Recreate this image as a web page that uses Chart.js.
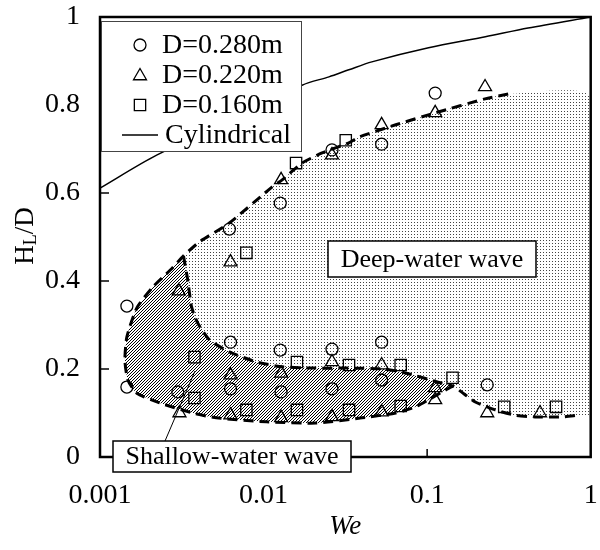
<!DOCTYPE html>
<html>
<head>
<meta charset="utf-8">
<script src="https://cdn.jsdelivr.net/npm/chart.js@4/dist/chart.umd.min.js"></script>
<style>
    body { margin: 0; background: #fff; }
    canvas { display: block; }
</style>
</head>
<body>
<canvas id="chart" width="600" height="550"></canvas>
<script>
// Axis ticks
const xTickVals = [0.001, 0.01, 0.1, 1];
const xTickLabels = ['0.001', '0.01', '0.1', '1'];
const yTickVals = [0, 0.2, 0.4, 0.6, 0.8, 1];
const yTickLabels = ['0', '0.2', '0.4', '0.6', '0.8', '1'];

// D=0.280m (circles)
const circleWe = [0.00146, 0.00146, 0.00299, 0.00618, 0.00628, 0.00628, 0.01265, 0.01265, 0.0128, 0.0262, 0.0262, 0.0262, 0.0527, 0.0527, 0.0527, 0.112, 0.233];
const circleH = [0.343, 0.159, 0.148, 0.518, 0.261, 0.155, 0.577, 0.243, 0.148, 0.698, 0.245, 0.155, 0.711, 0.261, 0.175, 0.827, 0.164];

// D=0.220m (triangles)
const triWe = [0.00303, 0.00306, 0.00628, 0.00628, 0.00628, 0.0128, 0.0128, 0.0128, 0.0262, 0.0262, 0.0262, 0.0527, 0.0527, 0.0527, 0.112, 0.112, 0.112, 0.226, 0.233, 0.49];
const triH = [0.377, 0.1, 0.443, 0.186, 0.095, 0.63, 0.19, 0.089, 0.686, 0.216, 0.091, 0.755, 0.209, 0.102, 0.782, 0.157, 0.13, 0.841, 0.1, 0.1];

// D=0.160m (squares)
const sqWe = [0.00378, 0.00378, 0.00785, 0.00785, 0.0158, 0.016, 0.016, 0.0318, 0.0333, 0.0333, 0.0689, 0.0689, 0.143, 0.296, 0.614];
const sqH = [0.227, 0.134, 0.464, 0.107, 0.668, 0.216, 0.107, 0.72, 0.209, 0.107, 0.209, 0.116, 0.18, 0.114, 0.114];

// Cylindrical
const cylWe = [0.001, 0.00222, 0.0172, 0.0251, 0.0332, 0.0459, 0.102, 0.227, 0.414, 1];
const cylH = [0.611, 0.686, 0.845, 0.864, 0.88, 0.898, 0.93, 0.955, 0.975, 1.0];

// Region boundaries (dashed curves)
const upperWe = [0.00324, 0.00406, 0.00618, 0.0113, 0.013, 0.0172, 0.0228, 0.0332, 0.0382, 0.0643, 0.112, 0.226, 0.313];
const upperH = [0.457, 0.489, 0.532, 0.614, 0.63, 0.668, 0.691, 0.714, 0.727, 0.755, 0.782, 0.814, 0.825];
const innerWe = [0.00324, 0.00344, 0.00363, 0.00395, 0.00467, 0.00618, 0.00904, 0.013, 0.0209, 0.0333, 0.0543, 0.074, 0.117, 0.145];
const innerH = [0.457, 0.402, 0.341, 0.305, 0.266, 0.239, 0.216, 0.205, 0.202, 0.202, 0.2, 0.191, 0.17, 0.161];
const lowerWe = [0.00324, 0.00278, 0.0021, 0.00168, 0.00146, 0.00142, 0.00148, 0.00168, 0.00232, 0.00368, 0.00515, 0.0104, 0.0209, 0.0399, 0.0643, 0.0849, 0.102, 0.129, 0.145];
const lowerH = [0.457, 0.43, 0.386, 0.339, 0.273, 0.22, 0.175, 0.145, 0.123, 0.1, 0.089, 0.08, 0.077, 0.089, 0.1, 0.114, 0.13, 0.152, 0.161];
const tailWe = [0.145, 0.162, 0.197, 0.261, 0.345, 0.457, 0.658, 0.834];
const tailH = [0.161, 0.148, 0.125, 0.107, 0.095, 0.091, 0.091, 0.095];
const edgeWe = [1, 1];
const edgeH = [0.818, 0.095];

function pts(we, h) {
    return we.map((v, i) => ({ x: v, y: h[i] }));
}

// Fill patterns
function makePattern(size, draw) {
    const c = document.createElement('canvas');
    c.width = size;
    c.height = size;
    const g = c.getContext('2d');
    draw(g);
    return g.createPattern(c, 'repeat');
}
const dotted = makePattern(3, g => {
    g.fillStyle = '#444';
    g.fillRect(0, 0, 1, 1);
});
const hatched = makePattern(3, g => {
    g.fillStyle = '#000';
    for (let i = 0; i < 3; i++) g.fillRect(i, 2 - i, 1, 1);
});

const deepShape = [...pts(upperWe, upperH), ...pts(edgeWe, edgeH),
    ...pts(tailWe, tailH).reverse(), ...pts(innerWe, innerH).reverse().slice(1)];
const shallowShape = [...pts(innerWe, innerH), ...pts(lowerWe, lowerH).reverse().slice(1)];
const outerLine = [...pts(upperWe, upperH).reverse(), ...pts(lowerWe, lowerH).slice(1), ...pts(tailWe, tailH).slice(1)];

const SERIF = "'Liberation Serif', 'Times New Roman', serif";
Chart.defaults.font.family = SERIF;
Chart.defaults.color = '#000';

function marker(ctx, style, x, y, r) {
    ctx.beginPath();
    if (style === 'circle') {
        ctx.arc(x, y, r, 0, Math.PI * 2);
    } else if (style === 'triangle') {
        ctx.moveTo(x, y - r);
        ctx.lineTo(x + r * 0.866, y + r / 2);
        ctx.lineTo(x - r * 0.866, y + r / 2);
        ctx.closePath();
    } else {
        const s = r * Math.SQRT1_2;
        ctx.rect(x - s, y - s, 2 * s, 2 * s);
    }
    ctx.stroke();
}

function textBox(ctx, text, cx, cy, w, h) {
    ctx.fillStyle = '#fff';
    ctx.fillRect(cx - w / 2, cy - h / 2, w, h);
    ctx.strokeStyle = '#000';
    ctx.lineWidth = 1.5;
    ctx.strokeRect(cx - w / 2, cy - h / 2, w, h);
    ctx.fillStyle = '#000';
    ctx.font = '26px ' + SERIF;
    ctx.textAlign = 'center';
    ctx.textBaseline = 'middle';
    ctx.fillText(text, cx, cy + 1);
}

// Frame, inward ticks, labels and legend
const decor = {
    id: 'decor',
    afterDraw(chart) {
        const { ctx, chartArea: a, scales: { x, y } } = chart;
        ctx.save();
        ctx.strokeStyle = '#000';
        ctx.lineWidth = 1.5;
        x.ticks.forEach(t => {
            if (t.value <= 0.001 || t.value >= 1) return;
            const px = x.getPixelForValue(t.value);
            ctx.beginPath();
            ctx.moveTo(px, a.bottom);
            ctx.lineTo(px, a.bottom - 8);
            ctx.stroke();
        });
        y.ticks.forEach(t => {
            if (t.value <= 0 || t.value >= 1) return;
            const py = y.getPixelForValue(t.value);
            ctx.beginPath();
            ctx.moveTo(a.left, py);
            ctx.lineTo(a.left + 9, py);
            ctx.stroke();
        });
        ctx.lineWidth = 2.5;
        ctx.strokeRect(a.left, a.top, a.right - a.left, a.bottom - a.top);

        // leader line to shallow region
        ctx.lineWidth = 1;
        ctx.beginPath();
        ctx.moveTo(165, 441);
        ctx.lineTo(195, 371);
        ctx.stroke();

        textBox(ctx, 'Deep-water wave', 432, 259, 208, 36);
        textBox(ctx, 'Shallow-water wave', 232, 456.5, 238, 31);

        // legend
        ctx.fillStyle = '#fff';
        ctx.fillRect(101, 21, 201, 131);
        ctx.strokeStyle = '#444';
        ctx.lineWidth = 1;
        ctx.strokeRect(101.5, 21.5, 200, 130);
        const entries = [
            { style: 'circle', r: 6, text: 'D=0.280m', y: 45 },
            { style: 'triangle', r: 7.5, text: 'D=0.220m', y: 75 },
            { style: 'rect', r: 8, text: 'D=0.160m', y: 105 }
        ];
        ctx.font = '28px ' + SERIF;
        ctx.textAlign = 'left';
        ctx.textBaseline = 'middle';
        ctx.strokeStyle = '#000';
        entries.forEach(e => {
            ctx.lineWidth = 1.3;
            marker(ctx, e.style, 140, e.y + (e.style === 'triangle' ? 1 : 0), e.r);
            ctx.fillStyle = '#000';
            ctx.fillText(e.text, 162, e.y + 1);
        });
        ctx.lineWidth = 1.5;
        ctx.beginPath();
        ctx.moveTo(122, 135);
        ctx.lineTo(158, 135);
        ctx.stroke();
        ctx.fillText('Cylindrical', 165, 136);

        // y axis title H_L/D
        ctx.translate(26, 236);
        ctx.rotate(-Math.PI / 2);
        ctx.textAlign = 'left';
        ctx.textBaseline = 'middle';
        const big = '27px ' + SERIF, small = '18px ' + SERIF;
        ctx.font = big;
        const wH = ctx.measureText('H').width;
        const wD = ctx.measureText('/D').width;
        ctx.font = small;
        const wL = ctx.measureText('L').width;
        let sx = -(wH + wL + wD) / 2;
        ctx.font = big;
        ctx.fillText('H', sx, 0);
        ctx.font = small;
        ctx.fillText('L', sx + wH, 5);
        ctx.font = big;
        ctx.fillText('/D', sx + wH + wL, 0);
        ctx.restore();
    }
};

const ctx = document.getElementById('chart').getContext('2d');
new Chart(ctx, {
    type: 'scatter',
    data: {
        datasets: [
            {
                label: 'Deep-water wave',
                data: deepShape,
                showLine: true,
                fill: 'shape',
                clip: false,
                backgroundColor: dotted,
                borderWidth: 0,
                pointRadius: 0,
                tension: 0.2,
                order: 10
            },
            {
                label: 'Shallow-water wave',
                data: shallowShape,
                showLine: true,
                fill: 'shape',
                clip: false,
                backgroundColor: hatched,
                borderWidth: 0,
                pointRadius: 0,
                tension: 0.2,
                order: 9
            },
            {
                label: 'Outer boundary',
                data: outerLine,
                showLine: true,
                borderColor: '#000',
                borderWidth: 3,
                borderDash: [10, 6],
                pointRadius: 0,
                tension: 0.2,
                order: 6
            },
            {
                label: 'Inner boundary',
                data: pts(innerWe, innerH),
                showLine: true,
                borderColor: '#000',
                borderWidth: 3,
                borderDash: [10, 6],
                pointRadius: 0,
                tension: 0.2,
                order: 5
            },
            {
                label: 'Cylindrical',
                data: pts(cylWe, cylH),
                showLine: true,
                borderColor: '#000',
                borderWidth: 1.5,
                pointRadius: 0,
                tension: 0.3,
                order: 4
            },
            {
                label: 'D=0.280m',
                data: pts(circleWe, circleH),
                pointStyle: 'circle',
                pointRadius: 6,
                borderColor: '#000',
                borderWidth: 1.3,
                backgroundColor: 'rgba(0,0,0,0)',
                order: 3
            },
            {
                label: 'D=0.220m',
                data: pts(triWe, triH),
                pointStyle: 'triangle',
                pointRadius: 7.5,
                borderColor: '#000',
                borderWidth: 1.3,
                backgroundColor: 'rgba(0,0,0,0)',
                order: 2
            },
            {
                label: 'D=0.160m',
                data: pts(sqWe, sqH),
                pointStyle: 'rect',
                pointRadius: 8,
                borderColor: '#000',
                borderWidth: 1.3,
                backgroundColor: 'rgba(0,0,0,0)',
                order: 1
            }
        ]
    },
    options: {
        responsive: false,
        devicePixelRatio: 1,
        animation: false,
        events: [],
        layout: { padding: { top: 17, right: 7, left: 0, bottom: 0 } },
        plugins: {
            legend: { display: false },
            tooltip: { enabled: false }
        },
        scales: {
            x: {
                type: 'logarithmic',
                min: 0.001,
                max: 1,
                afterBuildTicks: scale => {
                    scale.ticks = xTickVals.map(v => ({ value: v }));
                },
                afterFit: scale => {
                    scale.height = 93;
                    scale.paddingLeft = 0;
                    scale.paddingRight = 0;
                },
                grid: { display: false, drawTicks: false },
                border: { display: false },
                ticks: {
                    padding: 22,
                    maxRotation: 0,
                    autoSkip: false,
                    font: { size: 28 },
                    color: '#000',
                    callback: value => {
                        const i = xTickVals.findIndex(t => Math.abs(Math.log10(t) - Math.log10(value)) < 1e-6);
                        return i >= 0 ? xTickLabels[i] : '';
                    }
                },
                title: {
                    display: true,
                    text: 'We',
                    color: '#000',
                    font: { size: 27, style: 'italic' },
                    padding: { top: 0, bottom: 7 }
                }
            },
            y: {
                min: 0,
                max: 1,
                afterBuildTicks: scale => {
                    scale.ticks = yTickVals.map(v => ({ value: v }));
                },
                afterFit: scale => {
                    scale.width = 100;
                    scale.paddingTop = 0;
                    scale.paddingBottom = 0;
                },
                grid: { display: false, drawTicks: false },
                border: { display: false },
                ticks: {
                    padding: 20,
                    font: { size: 28 },
                    color: '#000',
                    callback: value => {
                        const i = yTickVals.findIndex(t => Math.abs(t - value) < 1e-6);
                        return i >= 0 ? yTickLabels[i] : '';
                    }
                }
            }
        }
    },
    plugins: [decor]
});
</script>
</body>
</html>
